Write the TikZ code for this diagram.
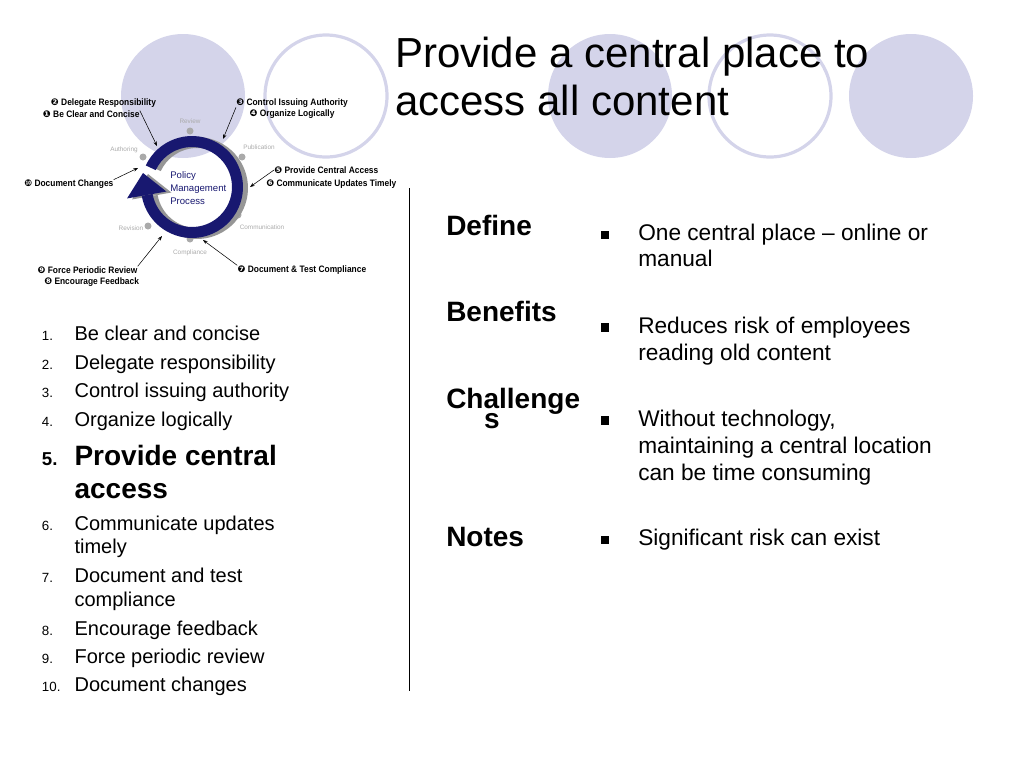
\documentclass[tikz,border=0pt]{standalone}
\usepackage{fontspec}
\setmainfont{Liberation Sans}
\newfontfamily\labelfont[FakeStretch=0.9]{Liberation Sans}
\newfontfamily\dingfont{DejaVu Sans}
\usetikzlibrary{arrows.meta}

\definecolor{lavender}{RGB}{212,212,234}
\definecolor{ringnavy}{RGB}{24,24,112}
\definecolor{ringshade}{RGB}{150,150,150}
\definecolor{stagegray}{RGB}{170,170,170}

\newcommand{\circnum}[1]{{\dingfont #1}}

\tikzset{
  bubble/.style={fill=lavender},
  hoop/.style={draw=lavender, line width=2.4pt},
  keylabel/.style={anchor=west, inner sep=0pt, font=\labelfont\bfseries\fontsize{7}{8}\selectfont},
  stage/.style={inner sep=0pt, text=stagegray, font=\fontsize{4.8}{5}\selectfont},
  pointer/.style={->, >={Stealth[length=3.5pt,width=2.6pt]}, line width=0.4pt},
  listnum/.style={anchor=base west, inner sep=0pt, font=\fontsize{10}{12}\selectfont},
  listtext/.style={anchor=base west, inner sep=0pt, font=\fontsize{15}{18}\selectfont},
  heading/.style={anchor=base west, inner sep=0pt, font=\bfseries\fontsize{21}{24}\selectfont},
  bodytext/.style={anchor=base west, inner sep=0pt, font=\fontsize{17}{20}\selectfont},
  sqbullet/.style={fill=black, inner sep=0pt, minimum size=6.4pt}
}

\begin{document}
\begin{tikzpicture}[x=0.75pt, y=-0.75pt]
  \useasboundingbox (0,0) rectangle (1024,768);

  % background circles
  \fill[bubble] (183,96) circle[radius=62];
  \draw[hoop] (326,96) circle[radius=61];
  \fill[bubble] (610,96) circle[radius=62];
  \draw[hoop] (770,96) circle[radius=61];
  \fill[bubble] (911,96) circle[radius=62];

  % title
  \node[anchor=base west, inner sep=0pt, font=\fontsize{31.5}{36}\selectfont] (title1) at (395,67.3) {Provide a central place to};
  \node[anchor=base west, inner sep=0pt, font=\fontsize{31.5}{36}\selectfont] (title2) at (395,115.7) {access all content};

  % process cycle
  \foreach \x/\y in {190/131, 242/157, 238/215, 190/239, 148/226, 143/157}
    \fill[stagegray] (\x,\y) circle[radius=3.5];
  \begin{scope}[shift={(197,188)}, y=0.75pt]
    \fill[ringshade] (155:51) arc[start angle=155, end angle=-170, radius=51]
      -- (-170:40) arc[start angle=-170, end angle=155, radius=40] -- cycle;
    \fill[ringshade] (-170:66) -- (-49,14) -- (-170:26) -- cycle;
  \end{scope}
  \begin{scope}[shift={(192,187)}, y=0.75pt]
    \fill[ringnavy] (155:51) arc[start angle=155, end angle=-170, radius=51]
      -- (-170:40) arc[start angle=-170, end angle=155, radius=40] -- cycle;
    \fill[ringnavy] (-170:66) -- (-49,14) -- (-170:26) -- cycle;
  \end{scope}

  \node[stage] (review) at (190,121) {Review};
  \node[stage] (publication) at (259,147) {Publication};
  \node[stage] (communication) at (262,227) {Communication};
  \node[stage] (compliance) at (190,253) {Compliance};
  \node[stage] (revision) at (131,228) {Revision};
  \node[stage] (authoring) at (124,150) {Authoring};

  \node[anchor=west, align=left, inner sep=0pt, text=ringnavy,
        font=\fontsize{7.2}{9.75}\selectfont] (pmp) at (170,188) {Policy\\Management\\Process};

  % key labels
  \node[keylabel] (clear) at (42.7,114.3) {\circnum{❶} Be Clear and Concise};
  \node[keylabel] (delegate) at (50.7,102.7) {\circnum{❷} Delegate Responsibility};
  \node[keylabel] (control) at (236,102.7) {\circnum{❸} Control Issuing Authority};
  \node[keylabel] (organize) at (249.3,114.3) {\circnum{❹} Organize Logically};
  \node[keylabel] (central) at (274,170) {\circnum{❺} Provide Central Access};
  \node[keylabel] (timely) at (266,184.3) {\circnum{❻} Communicate Updates Timely};
  \node[keylabel] (testcomp) at (237.3,270) {\circnum{❼} Document \& Test Compliance};
  \node[keylabel] (feedback) at (44,282.3) {\circnum{❽} Encourage Feedback};
  \node[keylabel] (periodic) at (37.3,270) {\circnum{❾} Force Periodic Review};
  \node[keylabel] (changes) at (24,184.3) {\circnum{❿} Document Changes};

  \coordinate (p1) at (157,146);
  \coordinate (p2) at (223,139);
  \coordinate (p3) at (250,187);
  \coordinate (p4) at (138,168);
  \coordinate (p5) at (162,236);
  \coordinate (p6) at (203,240);

  \draw[pointer] (clear.north east) -- (p1);
  \draw[pointer] (control.south west) -- (p2);
  \draw[pointer] (central.west) -- (p3);
  \draw[pointer] (changes.north east) -- (p4);
  \draw[pointer] (periodic.north east) -- (p5);
  \draw[pointer] (testcomp.north west) -- (p6);

  % numbered list
  \foreach \n/\yy in {1/340.7, 2/369.3, 3/397.7, 4/426.7, 6/530, 7/582.7, 8/635, 9/663.3, 10/691.7}
    \node[listnum] (num\n) at (41.7,\yy) {\n.};
  \node[listnum, font=\bfseries\fontsize{14}{16}\selectfont] (num5) at (41.7,465) {5.};
  \foreach \yy/\txt [count=\i] in {340.7/Be clear and concise, 369.3/Delegate responsibility,
      397.7/Control issuing authority, 426.7/Organize logically, 530/Communicate updates,
      553.3/timely, 582.7/Document and test, 606/compliance, 635/Encourage feedback,
      663.3/Force periodic review, 691.7/Document changes}
    \node[listtext] (item\i) at (74.3,\yy) {\txt};
  \node[listtext, font=\bfseries\fontsize{21}{24}\selectfont] (focus1) at (74.3,465) {Provide central};
  \node[listtext, font=\bfseries\fontsize{21}{24}\selectfont] (focus2) at (74.3,498.3) {access};

  % divider
  \coordinate (divtop) at (409.3,188.3);
  \coordinate (divbot) at (409.3,690.7);
  \draw[line width=0.8pt] (divtop) -- (divbot);

  % right panel
  \node[heading] (define) at (446,235) {Define};
  \node[heading] (benefits) at (446,321.7) {Benefits};
  \node[heading] (challenge) at (446,408.3) {Challenge};
  \node[heading, anchor=base] (challenges) at (492,428.3) {s};
  \node[heading] (notes) at (446,546.7) {Notes};

  \foreach \yy [count=\i] in {235, 327.7, 420.7, 540}
    \node[sqbullet] (bul\i) at (605,\yy) {};

  \foreach \yy/\txt [count=\i] in {240.7/One central place – online or, 266.7/manual,
      333.3/Reduces risk of employees, 360/reading old content,
      426.7/{Without technology,}, 453.3/maintaining a central location,
      480.7/can be time consuming, 545/Significant risk can exist}
    \node[bodytext] (body\i) at (638,\yy) {\txt};
\end{tikzpicture}
\end{document}
